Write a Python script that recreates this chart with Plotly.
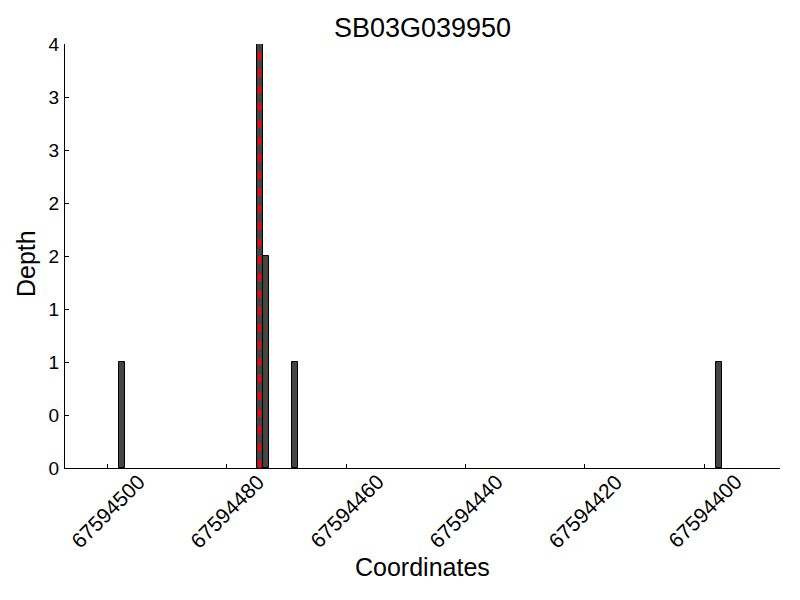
import plotly.graph_objects as go

title = "SB03G039950"
positions = [67594497, 67594474, 67594473, 67594468, 67594397]
depths = [1, 4, 2, 1, 1]
highlight_x = [67594474.5, 67594474.5]
highlight_y = [0, 4]
xtick_vals = [67594500, 67594480, 67594460, 67594440, 67594420, 67594400]
xtick_text = [str(v) for v in xtick_vals]
ytick_vals = [0, 0.5, 1, 1.5, 2, 2.5, 3, 3.5, 4]
ytick_text = ["0", "0", "1", "1", "2", "2", "3", "3", "4"]

FONT = "Liberation Sans, Arial, sans-serif"

fig = go.Figure()
fig.add_trace(go.Bar(
    x=positions, y=depths, width=1, offset=0,
    marker=dict(color="#454545", line=dict(color="black", width=1)),
))
fig.add_trace(go.Scatter(
    x=highlight_x, y=highlight_y, mode="lines",
    line=dict(color="red", width=3, dash="8px,9px"),
))

annotations = []
for v, t in zip(xtick_vals, xtick_text):
    annotations.append(dict(
        x=v, y=0, xref="x", yref="paper", text=t, showarrow=False,
        textangle=-45, xanchor="center", yanchor="middle", yshift=-43,
        font=dict(family=FONT, size=21, color="black"),
    ))
annotations.append(dict(
    x=0.5, y=0, xref="paper", yref="paper", text="Coordinates", showarrow=False,
    xanchor="center", yanchor="middle", yshift=-99,
    font=dict(family=FONT, size=25, color="black"),
))
annotations.append(dict(
    x=0, y=0.5, xref="paper", yref="paper", text="Depth", showarrow=False,
    textangle=-90, xanchor="center", yanchor="middle", xshift=-39, yshift=-8,
    font=dict(family=FONT, size=25, color="black"),
))

fig.update_layout(
    width=800, height=600,
    margin=dict(l=57, r=28, t=36, b=140),
    paper_bgcolor="white", plot_bgcolor="white",
    showlegend=False,
    bargap=0,
    title=dict(text=title, x=0.5, xref="paper", xanchor="center",
               y=1 - 20 / 600, yref="container", yanchor="middle",
               font=dict(family=FONT, size=27, color="black")),
    font=dict(family=FONT, color="black"),
    annotations=annotations,
)
fig.update_xaxes(
    range=[67594507.1, 67594387.3], tickvals=xtick_vals, showticklabels=False,
    ticks="inside", ticklen=4, tickcolor="black", showgrid=False, zeroline=False,
    showline=True, linecolor="black", linewidth=1, automargin=False,
)
fig.update_yaxes(
    range=[0, 4], tickvals=ytick_vals, ticktext=ytick_text,
    ticks="inside", ticklen=4, tickcolor="black", showgrid=False, zeroline=False,
    showline=True, linecolor="black", linewidth=1, automargin=False,
    tickfont=dict(family=FONT, size=19, color="black"), ticklabelstandoff=1,
)

fig.write_html("out.html")
